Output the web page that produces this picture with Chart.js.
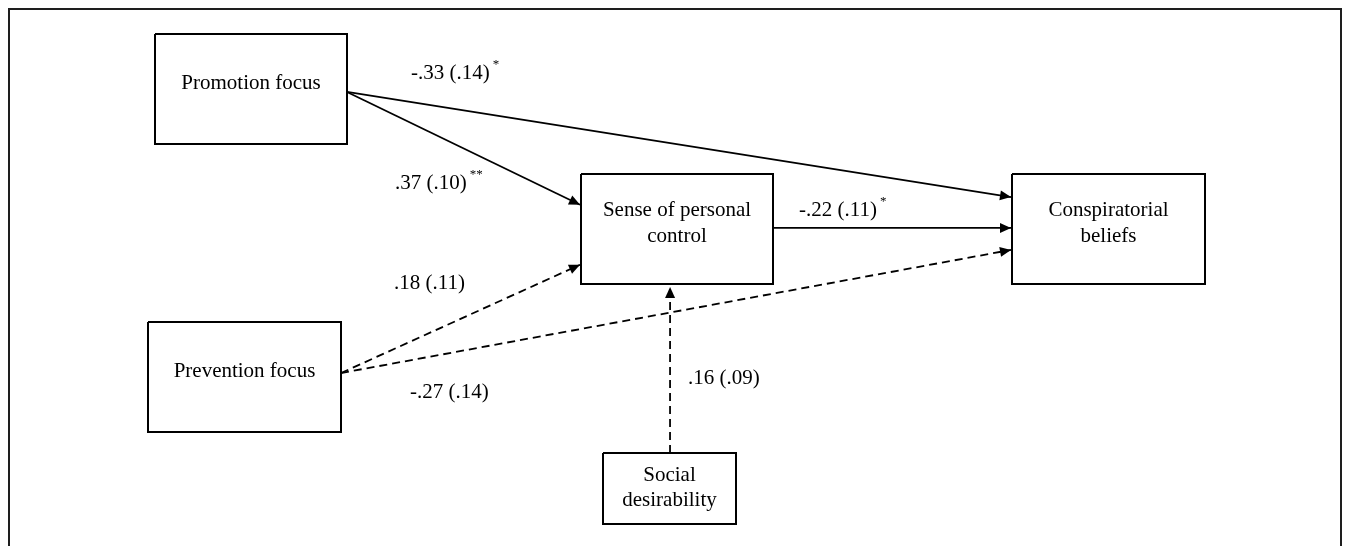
<!DOCTYPE html>
<html>
<head>
<meta charset="utf-8">
<script src="https://cdn.jsdelivr.net/npm/chart.js@4/dist/chart.umd.min.js"></script>
<style>
  html, body { margin: 0; padding: 0; background: #fff; }
  canvas { display: block; }
</style>
</head>
<body>
<canvas id="pathModel" width="1345" height="546"></canvas>
<script>
// Path model: variables and path estimates (SE in parentheses)
const variables = ['Promotion focus', 'Prevention focus', 'Sense of personal control', 'Conspiratorial beliefs', 'Social desirability'];
const pathFrom = ['Promotion focus', 'Promotion focus', 'Sense of personal control', 'Prevention focus', 'Prevention focus', 'Social desirability'];
const pathTo = ['Conspiratorial beliefs', 'Sense of personal control', 'Conspiratorial beliefs', 'Sense of personal control', 'Conspiratorial beliefs', 'Sense of personal control'];
const pathEstimate = [-0.33, 0.37, -0.22, 0.18, -0.27, 0.16];
const pathSE = [0.14, 0.10, 0.11, 0.11, 0.14, 0.09];
const pathStars = ['*', '**', '*', '', '', ''];

// Layout (canvas units): boxes, wrapped label lines, text rows
const nodeLayout = {
  'Promotion focus':           { x0: 155, y0: 34,  x1: 347, y1: 144, lines: ['Promotion focus'], rows: [83] },
  'Prevention focus':          { x0: 148, y0: 322, x1: 341, y1: 432, lines: ['Prevention focus'], rows: [371] },
  'Sense of personal control': { x0: 581, y0: 174, x1: 773, y1: 284, lines: ['Sense of personal', 'control'], rows: [210, 236] },
  'Conspiratorial beliefs':    { x0: 1012, y0: 174, x1: 1205, y1: 284, lines: ['Conspiratorial', 'beliefs'], rows: [210, 236] },
  'Social desirability':       { x0: 603, y0: 453, x1: 736, y1: 524, lines: ['Social', 'desirability'], rows: [475, 500] }
};
// Where each path leaves / enters a box: [side, fraction along that side, gap before the side]
const pathPorts = [
  [['right', 0.527, 0], ['left', 0.21, 1]],
  [['right', 0.527, 0], ['left', 0.28, 1]],
  [['right', 0.49, 0],  ['left', 0.49, 1]],
  [['right', 0.464, 0], ['left', 0.825, 1]],
  [['right', 0.464, 0], ['left', 0.69, 1]],
  [['top', 0.504, 0],   ['bottom', 0.464, 3]]
];
// Left edge and vertical middle of each coefficient label
const labelAnchor = [[411, 73], [395, 183], [799, 210], [394, 283], [410, 392], [688, 378]];

const FONT = '"Liberation Serif", "Times New Roman", serif';
const frame = [{ x: 9, y: 546 }, { x: 9, y: 9 }, { x: 1341, y: 9 }, { x: 1341, y: 546 }];

function port(name, spec) {
  const b = nodeLayout[name];
  const [side, f, g] = spec;
  if (side === 'right') return { x: b.x1 + g, y: b.y0 + f * (b.y1 - b.y0) };
  if (side === 'left') return { x: b.x0 - g, y: b.y0 + f * (b.y1 - b.y0) };
  if (side === 'top') return { x: b.x0 + f * (b.x1 - b.x0), y: b.y0 - g };
  return { x: b.x0 + f * (b.x1 - b.x0), y: b.y1 + g };
}
function fmt(v) {
  return (v < 0 ? '-' : '') + Math.abs(v).toFixed(2).replace(/^0/, '');
}

const datasets = [];
datasets.push({ data: frame, borderColor: '#1e1e1e', borderWidth: 2, showLine: true, pointRadius: 0, fill: false, borderJoinStyle: 'miter' });
variables.forEach(v => {
  const b = nodeLayout[v];
  datasets.push({
    data: [{ x: b.x0, y: b.y0 }, { x: b.x1, y: b.y0 }, { x: b.x1, y: b.y1 }, { x: b.x0, y: b.y1 }, { x: b.x0, y: b.y0 }],
    borderColor: '#000', borderWidth: 2, showLine: true, pointRadius: 0, fill: false,
    borderJoinStyle: 'miter', kind: 'node'
  });
});
pathFrom.forEach((src, i) => {
  const a = port(src, pathPorts[i][0]);
  const b = port(pathTo[i], pathPorts[i][1]);
  datasets.push({
    data: [a, b], borderColor: '#000', borderWidth: 1.8, showLine: true, pointRadius: 0, fill: false,
    borderDash: pathStars[i] ? [] : [8, 5], kind: 'path', pathIndex: i
  });
});

const diagramPlugin = {
  id: 'diagramPlugin',
  afterDatasetsDraw(chart) {
    const ctx = chart.ctx;
    const xs = chart.scales.x, ys = chart.scales.y;
    ctx.save();
    // arrowheads at the target end of each path
    chart.data.datasets.forEach(ds => {
      if (ds.kind !== 'path') return;
      const p0 = ds.data[0], p1 = ds.data[1];
      const x0 = xs.getPixelForValue(p0.x), y0 = ys.getPixelForValue(p0.y);
      const x1 = xs.getPixelForValue(p1.x), y1 = ys.getPixelForValue(p1.y);
      const ang = Math.atan2(y1 - y0, x1 - x0);
      const L = 11, W = 5;
      ctx.fillStyle = '#000';
      ctx.beginPath();
      ctx.moveTo(x1, y1);
      ctx.lineTo(x1 - L * Math.cos(ang) + W * Math.sin(ang), y1 - L * Math.sin(ang) - W * Math.cos(ang));
      ctx.lineTo(x1 - L * Math.cos(ang) - W * Math.sin(ang), y1 - L * Math.sin(ang) + W * Math.cos(ang));
      ctx.closePath();
      ctx.fill();
    });
    // variable names
    ctx.fillStyle = '#000';
    ctx.textAlign = 'center';
    ctx.textBaseline = 'middle';
    ctx.font = '21px ' + FONT;
    variables.forEach(v => {
      const b = nodeLayout[v];
      const cx = xs.getPixelForValue((b.x0 + b.x1) / 2);
      b.lines.forEach((line, k) => ctx.fillText(line, cx, ys.getPixelForValue(b.rows[k])));
    });
    // coefficient labels with significance stars
    ctx.textAlign = 'left';
    pathEstimate.forEach((est, i) => {
      const txt = fmt(est) + ' (' + fmt(pathSE[i]) + ')';
      const lx = xs.getPixelForValue(labelAnchor[i][0]);
      const ly = ys.getPixelForValue(labelAnchor[i][1]);
      ctx.font = '21px ' + FONT;
      ctx.fillText(txt, lx, ly);
      if (pathStars[i]) {
        const w = ctx.measureText(txt).width;
        ctx.font = '13px ' + FONT;
        ctx.fillText(pathStars[i], lx + w + 3, ly - 8);
      }
    });
    ctx.restore();
  }
};

new Chart(document.getElementById('pathModel'), {
  type: 'scatter',
  data: { datasets },
  options: {
    responsive: false,
    animation: false,
    events: [],
    devicePixelRatio: 1,
    layout: { padding: 0 },
    plugins: { legend: { display: false }, tooltip: { enabled: false } },
    scales: {
      x: { type: 'linear', min: 0, max: 1345, display: false },
      y: { type: 'linear', min: 0, max: 546, reverse: true, display: false }
    }
  },
  plugins: [diagramPlugin]
});
</script>
</body>
</html>
